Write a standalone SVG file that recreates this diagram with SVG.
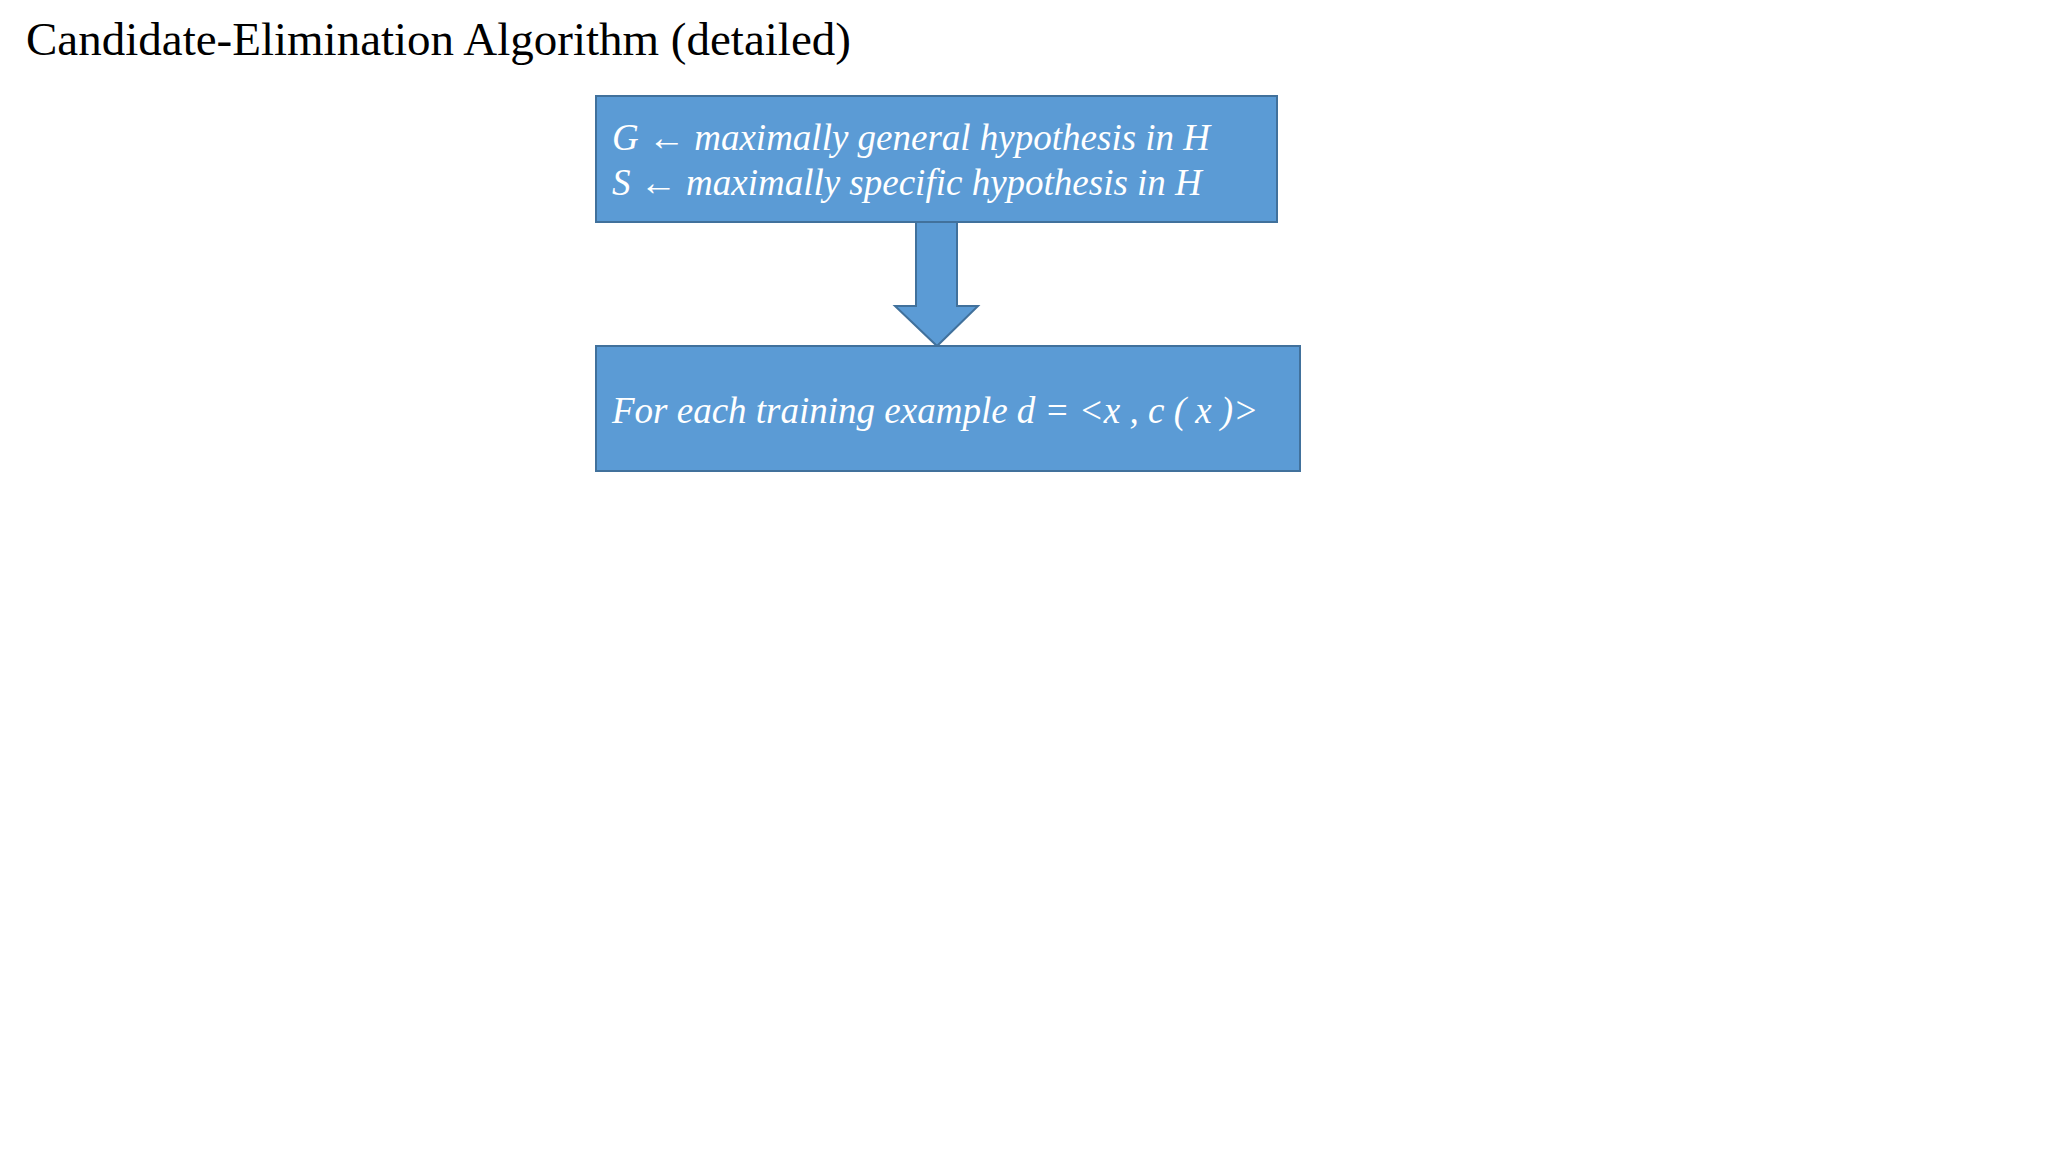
<svg xmlns="http://www.w3.org/2000/svg" width="2048" height="1152" viewBox="0 0 2048 1152">
<style>
.box{fill:#5B9BD5;stroke:#41719C;stroke-width:2}
.t{font-family:"Liberation Serif",serif;font-style:italic;font-size:37px;fill:#fff}
</style>
<rect width="2048" height="1152" fill="#fff"/>
<text x="26" y="55" font-family="Liberation Serif, serif" font-size="47" fill="#000">Candidate-Elimination Algorithm (detailed)</text>
<g id="connectors">
<path class="box" d="M916,222 L957,222 L957,306 L978,306 L937,346 L895,306 L916,306 Z"/>
</g>
<g id="init">
<rect class="box" x="596" y="96" width="681" height="126"/>
<text class="t" x="612" y="150">G ← maximally general hypothesis in H</text>
<text class="t" x="612" y="195">S ← maximally specific hypothesis in H</text>
</g>
<g id="loop">
<rect class="box" x="596" y="346" width="704" height="125"/>
<text class="t" x="612" y="423">For each training example d = &lt;x , c ( x )&gt;</text>
</g>
</svg>
